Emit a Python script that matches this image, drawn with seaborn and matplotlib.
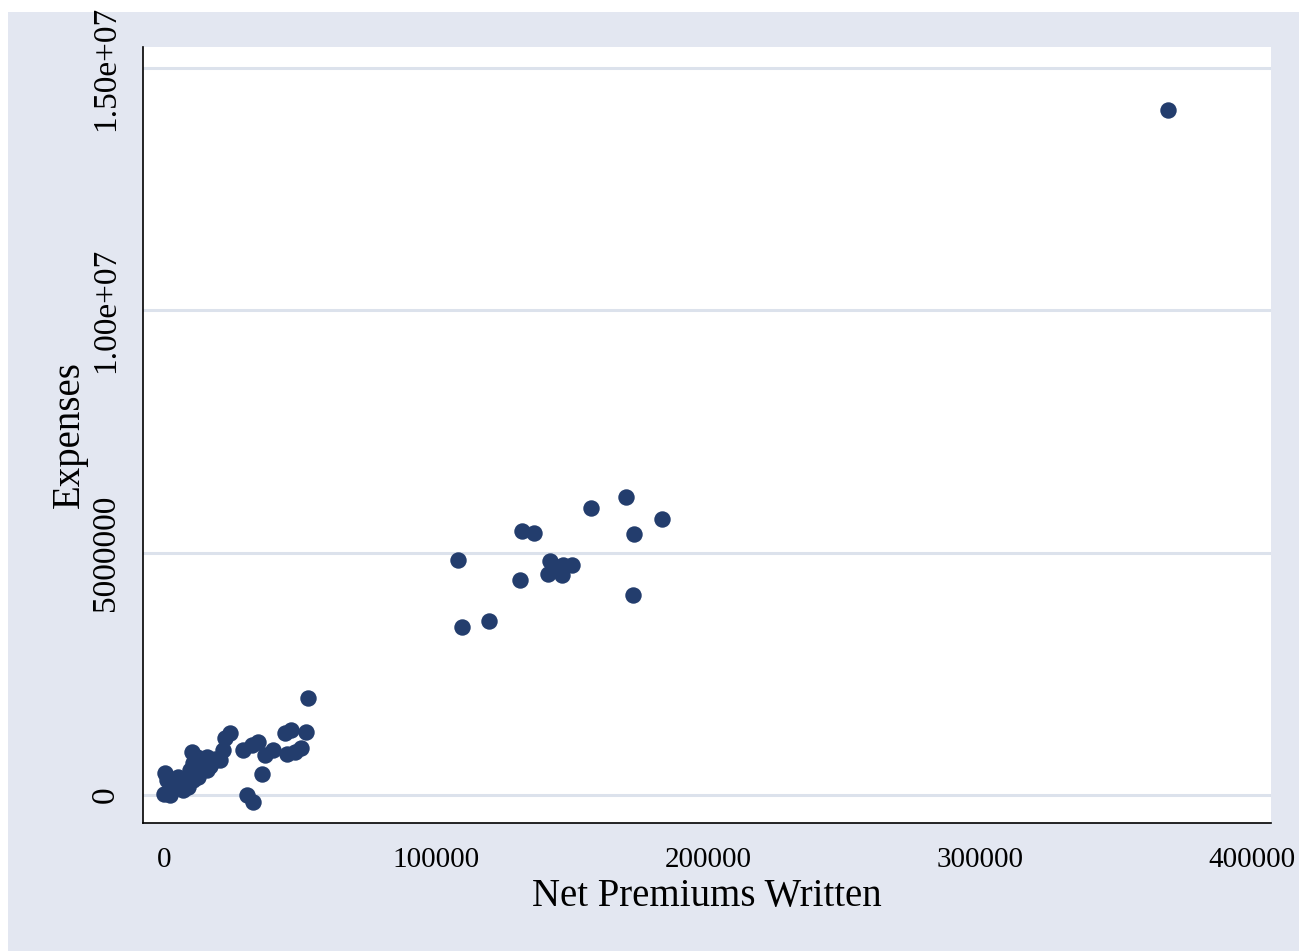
import numpy as np
import pandas as pd
import seaborn as sns
import matplotlib.pyplot as plt
from matplotlib.patches import Rectangle

# values
premiums = [369100,
            107950, 109700, 119600, 131500, 135900, 130900, 141900, 141300,
            146200, 146600, 149900, 145000, 156900, 169850, 172900, 183000, 172300,
            52800, 46700, 44500, 52200, 50400, 48200, 45100, 40200, 37100, 35900,
            34700, 32200, 29200, 24300, 22400, 21800, 30400, 32600, 20600, 17500,
            15700, 10200, 10800, 13900, 15700, 9600, 10800, 8300, 12600, 400,
            1000, 0, 2200, 4700, 3400, 5900, 7100, 8900, 2200, 5300,
            12000, 14500, 16800, 18800, 6500, 3000]
expenses = [14.14e6,
            4.85e6, 3.46e6, 3.60e6, 5.45e6, 5.41e6, 4.44e6, 4.83e6, 4.56e6,
            4.54e6, 4.75e6, 4.75e6, 4.71e6, 5.93e6, 6.14e6, 5.38e6, 5.69e6, 4.13e6,
            1.995e6, 1.34e6, 1.27e6, 1.31e6, 0.96e6, 0.89e6, 0.85e6, 0.93e6, 0.83e6, 0.43e6,
            1.10e6, 1.03e6, 0.93e6, 1.27e6, 1.17e6, 0.93e6, 0.0, -0.14e6, 0.72e6, 0.69e6,
            0.79e6, 0.89e6, 0.65e6, 0.58e6, 0.52e6, 0.52e6, 0.31e6, 0.24e6, 0.38e6, 0.45e6,
            0.31e6, 0.03e6, 0.10e6, 0.17e6, 0.31e6, 0.31e6, 0.10e6, 0.17e6, 0.0, 0.38e6,
            0.78e6, 0.70e6, 0.60e6, 0.75e6, 0.22e6, 0.20e6]

xticks = [0, 100000, 200000, 300000, 400000]
xticklabels = ['0', '100000', '200000', '300000', '400000']
yticks = [0, 5000000, 10000000, 15000000]
yticklabels = ['0', '5000000', '1.00e+07', '1.50e+07']

df = pd.DataFrame({'Net Premiums Written': premiums, 'Expenses': expenses})

bg = '#E3E7F1'
navy = '#233D6D'

sns.set_style('white')
plt.rcParams['font.family'] = ['Liberation Serif', 'DejaVu Serif']

fig = plt.figure(figsize=(12.99, 9.51), dpi=100, facecolor='white')
fig.add_artist(Rectangle((8 / 1299, 0), 1, 1 - 12 / 951, transform=fig.transFigure,
                         facecolor=bg, edgecolor='none', zorder=-10))
ax = fig.add_axes([143 / 1299, 1 - 823 / 951, (1271 - 143) / 1299, (823 - 47) / 951])

sns.scatterplot(data=df, x='Net Premiums Written', y='Expenses', ax=ax,
                color=navy, s=140, linewidth=0, zorder=3)

ax.set_xlim(-7720, 407000)
ax.set_ylim(-578000, 15436000)
ax.set_xticks(xticks)
ax.set_xticklabels(xticklabels)
ax.set_yticks(yticks)
ax.set_yticklabels(yticklabels, rotation=90, va='center')

for y in yticks:
    ax.axhline(y, color='#DCE2EC', lw=2.2, zorder=1)

for side in ['top', 'right']:
    ax.spines[side].set_visible(False)
for side in ['left', 'bottom']:
    ax.spines[side].set_color('black')
    ax.spines[side].set_linewidth(1.2)

ax.tick_params(axis='both', direction='out', length=9, width=1.1, color='black',
               labelcolor='black')
ax.tick_params(axis='x', labelsize=21, pad=8)
ax.tick_params(axis='y', labelsize=24, pad=7)
ax.set_xlabel('Net Premiums Written', fontsize=28, color='black', labelpad=4)
ax.set_ylabel('Expenses', fontsize=28, color='black', labelpad=2)

fig.savefig('out.png', dpi=100, facecolor=fig.get_facecolor())
